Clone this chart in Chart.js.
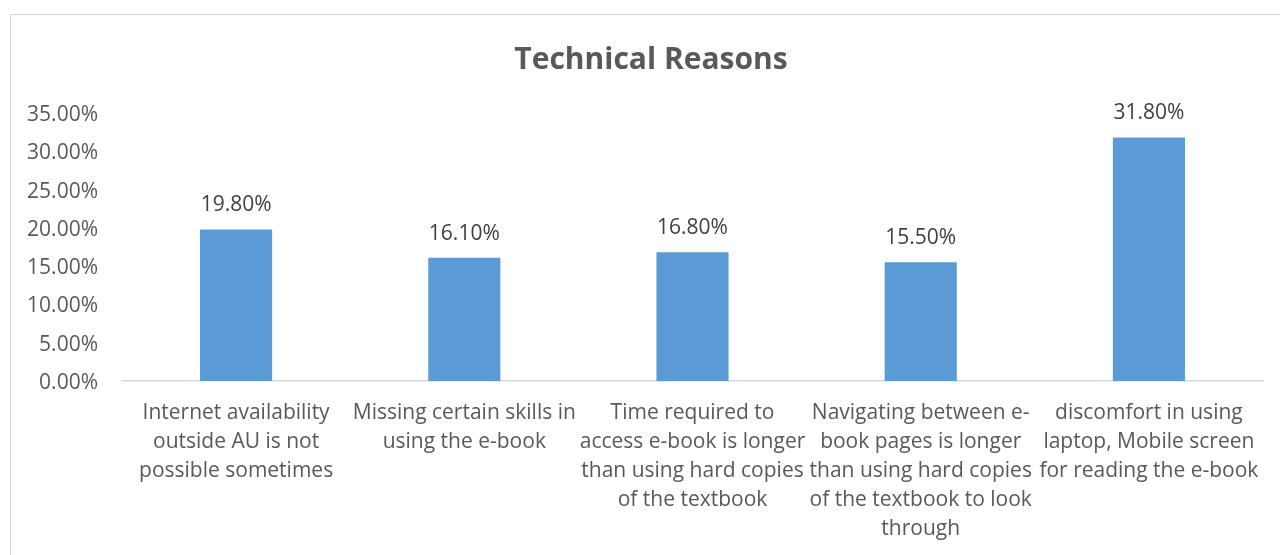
<!DOCTYPE html>
<html>
<head>
<meta charset="utf-8">
<script src="https://cdn.jsdelivr.net/npm/chart.js@4.4.0/dist/chart.umd.min.js"></script>
<style>
  html, body { margin: 0; padding: 0; background: #fff; overflow: hidden; }
  #frame { position: absolute; left: 10px; top: 14px; width: 1400px; height: 700px; border: 1px solid #d6d6d6; box-sizing: border-box; }
  #wrap { position: absolute; left: 0; top: 0; width: 1280px; height: 555px; }
</style>
</head>
<body>
<div id="frame"></div>
<div id="wrap"><canvas id="c" width="1280" height="555"></canvas></div>
<script>
const titleText = "Technical Reasons";
const categories = [
  ["Internet availability", "outside AU is not", "possible sometimes"],
  ["Missing certain skills in", "using the e-book"],
  ["Time required to", "access e-book is longer", "than using hard copies", "of the textbook"],
  ["Navigating between e-", "book pages is longer", "than using hard copies", "of the textbook to look", "through"],
  ["discomfort in using", "laptop, Mobile screen", "for reading the e-book"]
];
const values = [19.8, 16.1, 16.8, 15.5, 31.8];
const yTicks = [0, 5, 10, 15, 20, 25, 30, 35];

const FONT = "'Open Sans'";
const TXT = "#595959";

const titleAndLabels = {
  id: "titleAndLabels",
  afterDatasetsDraw(chart) {
    const ctx = chart.ctx;
    const meta = chart.getDatasetMeta(0);
    ctx.save();
    ctx.font = "21px " + FONT;
    ctx.fillStyle = "#404040";
    ctx.textAlign = "center";
    ctx.textBaseline = "middle";
    meta.data.forEach((bar, i) => {
      ctx.fillText(values[i].toFixed(2) + "%", bar.x, bar.y - 24);
    });
    ctx.font = "bold 30px " + FONT;
    ctx.fillStyle = TXT;
    ctx.fillText(titleText, 651, 60);
    ctx.restore();
  }
};

new Chart(document.getElementById("c"), {
  type: "bar",
  data: {
    labels: categories,
    datasets: [{
      data: values,
      backgroundColor: "#5B9BD5",
      borderWidth: 0,
      categoryPercentage: 1,
      barPercentage: 0.316
    }]
  },
  options: {
    responsive: false,
    animation: false,
    layout: { padding: { left: 0, right: 17, top: 113, bottom: 0 } },
    plugins: {
      legend: { display: false },
      tooltip: { enabled: false },
      title: { display: false }
    },
    scales: {
      x: {
        grid: { display: false, drawTicks: false },
        border: { display: true, color: "#d9d9d9", width: 1.5 },
        ticks: {
          color: TXT,
          font: { family: FONT, size: 21, lineHeight: 1.38 },
          padding: 18,
          maxRotation: 0,
          minRotation: 0,
          autoSkip: false
        },
        afterFit(scale) { scale.height = 555 - 113 - 268; }
      },
      y: {
        min: 0,
        max: 35,
        grid: { display: false, drawTicks: false },
        border: { display: false },
        afterBuildTicks(scale) { scale.ticks = yTicks.map(v => ({ value: v })); },
        ticks: {
          color: TXT,
          font: { family: FONT, size: 21 },
          padding: 24,
          labelOffset: 2,
          callback: v => v.toFixed(2) + "%"
        },
        afterFit(scale) { scale.width = 122; }
      }
    }
  },
  plugins: [titleAndLabels]
});
</script>
</body>
</html>
